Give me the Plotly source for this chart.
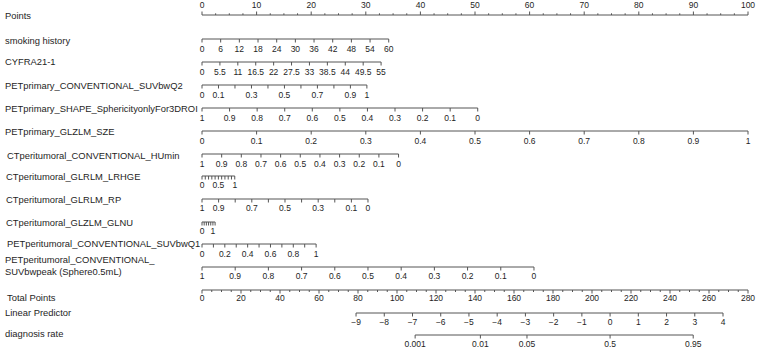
import math
import plotly.graph_objects as go

# ---------------- data ----------------
POINTS_MAJOR = [0, 10, 20, 30, 40, 50, 60, 70, 80, 90, 100]
POINTS_MINOR = [i * 2.5 for i in range(41)]

SMOKING_TICKS = [0, 6, 12, 18, 24, 30, 36, 42, 48, 54, 60]
SMOKING_LABELS = ["0", "6", "12", "18", "24", "30", "36", "42", "48", "54", "60"]
SMOKING_ENDS = [0, 60]          # value at 0 points, value at max points
SMOKING_MAXPTS = 34.2

CYFRA_TICKS = [0, 5.5, 11, 16.5, 22, 27.5, 33, 38.5, 44, 49.5, 55]
CYFRA_LABELS = ["0", "5.5", "11", "16.5", "22", "27.5", "33", "38.5", "44", "49.5", "55"]
CYFRA_ENDS = [0, 55]
CYFRA_MAXPTS = 32.8

SUVQ2_TICKS = [0, 0.1, 0.2, 0.3, 0.4, 0.5, 0.6, 0.7, 0.8, 0.9, 1]
SUVQ2_LABEL_AT = [0, 0.1, 0.3, 0.5, 0.7, 0.9, 1]
SUVQ2_LABELS = ["0", "0.1", "0.3", "0.5", "0.7", "0.9", "1"]
SUVQ2_ENDS = [0, 1]
SUVQ2_MAXPTS = 30.2

SPHER_TICKS = [1, 0.9, 0.8, 0.7, 0.6, 0.5, 0.4, 0.3, 0.2, 0.1, 0]
SPHER_LABELS = ["1", "0.9", "0.8", "0.7", "0.6", "0.5", "0.4", "0.3", "0.2", "0.1", "0"]
SPHER_ENDS = [1, 0]
SPHER_MAXPTS = 50.5

SZE_TICKS = [0, 0.1, 0.2, 0.3, 0.4, 0.5, 0.6, 0.7, 0.8, 0.9, 1]
SZE_LABELS = ["0", "0.1", "0.2", "0.3", "0.4", "0.5", "0.6", "0.7", "0.8", "0.9", "1"]
SZE_ENDS = [0, 1]
SZE_MAXPTS = 100

HUMIN_TICKS = [1, 0.9, 0.8, 0.7, 0.6, 0.5, 0.4, 0.3, 0.2, 0.1, 0]
HUMIN_LABELS = ["1", "0.9", "0.8", "0.7", "0.6", "0.5", "0.4", "0.3", "0.2", "0.1", "0"]
HUMIN_ENDS = [1, 0]
HUMIN_MAXPTS = 36.0

LRHGE_TICKS = [0, 0.1, 0.2, 0.3, 0.4, 0.5, 0.6, 0.7, 0.8, 0.9, 1]
LRHGE_LABEL_AT = [0, 0.5, 1]
LRHGE_LABELS = ["0", "0.5", "1"]
LRHGE_ENDS = [0, 1]
LRHGE_MAXPTS = 6.0

RP_TICKS = [1, 0.9, 0.8, 0.7, 0.6, 0.5, 0.4, 0.3, 0.2, 0.1, 0]
RP_LABEL_AT = [1, 0.9, 0.7, 0.5, 0.3, 0.1, 0]
RP_LABELS = ["1", "0.9", "0.7", "0.5", "0.3", "0.1", "0"]
RP_ENDS = [1, 0]
RP_MAXPTS = 30.4

GLNU_TICKS = [0, 0.2, 0.4, 0.6, 0.8, 1.0, 1.2]
GLNU_LABEL_AT = [0, 1]
GLNU_LABELS = ["0", "1"]
GLNU_ENDS = [0, 1]
GLNU_MAXPTS = 2.0

SUVQ1_TICKS = [0, 0.1, 0.2, 0.3, 0.4, 0.5, 0.6, 0.7, 0.8, 0.9, 1]
SUVQ1_LABEL_AT = [0, 0.2, 0.4, 0.6, 0.8, 1]
SUVQ1_LABELS = ["0", "0.2", "0.4", "0.6", "0.8", "1"]
SUVQ1_ENDS = [0, 1]
SUVQ1_MAXPTS = 20.9

PEAK_TICKS = [1, 0.9, 0.8, 0.7, 0.6, 0.5, 0.4, 0.3, 0.2, 0.1, 0]
PEAK_LABELS = ["1", "0.9", "0.8", "0.7", "0.6", "0.5", "0.4", "0.3", "0.2", "0.1", "0"]
PEAK_ENDS = [1, 0]
PEAK_MAXPTS = 60.8

TOTAL_MAJOR = [0, 20, 40, 60, 80, 100, 120, 140, 160, 180, 200, 220, 240, 260, 280]
TOTAL_MINOR = [i * 5 for i in range(57)]
TOTAL_MAX = 280

LP_TICKS = [-9, -8, -7, -6, -5, -4, -3, -2, -1, 0, 1, 2, 3, 4]
LP_LABELS = ["\u22129", "\u22128", "\u22127", "\u22126", "\u22125", "\u22124", "\u22123",
             "\u22122", "\u22121", "0", "1", "2", "3", "4"]
LP_INTERCEPT = -14.457      # linear predictor at 0 total points
LP_SLOPE = 0.06908          # linear predictor per total point

RATE_TICKS = [0.001, 0.01, 0.05, 0.5, 0.95]
RATE_LABELS = ["0.001", "0.01", "0.05", "0.5", "0.95"]

# ---------------- layout constants ----------------
W, H = 757, 351
PX0, PX100 = 202, 748
PPP = (PX100 - PX0) / 100.0
XR = [-PX0 / PPP, (W - PX0) / PPP]
LINE_C = "#555555"
TEXT_C = "#1e1e1e"
FONT = "Liberation Sans, Arial, sans-serif"
LAB_SIZE = 9.4
TICK_SIZE = 8.5
TL = 3.5   # major tick length (px)


def to_pts(v, ends, maxpts):
    return maxpts * (v - ends[0]) / (ends[1] - ends[0])


fig = go.Figure()
seg_x, seg_y = [], []
txt_x, txt_y, txt_s = [], [], []


def add_row(tick_vals, label_vals, labels, conv, y_line, y_lab, tick_len=TL, direction=1):
    xs = [conv(v) for v in tick_vals]
    seg_x.extend([min(xs), max(xs), None])
    seg_y.extend([y_line, y_line, None])
    for x in xs:
        seg_x.extend([x, x, None])
        seg_y.extend([y_line, y_line + direction * tick_len, None])
    for v, s in zip(label_vals, labels):
        txt_x.append(conv(v))
        txt_y.append(y_lab)
        txt_s.append(s)


# Points axis (ticks upward, labels above)
add_row(POINTS_MAJOR, POINTS_MAJOR, [str(v) for v in POINTS_MAJOR], lambda v: v, 15, 5.5, TL, -1)
for v in POINTS_MINOR:
    if v not in POINTS_MAJOR:
        seg_x.extend([v, v, None])
        seg_y.extend([15, 13.3, None])

rows = [
    (SMOKING_TICKS, SMOKING_TICKS, SMOKING_LABELS, SMOKING_ENDS, SMOKING_MAXPTS, 39, 50),
    (CYFRA_TICKS, CYFRA_TICKS, CYFRA_LABELS, CYFRA_ENDS, CYFRA_MAXPTS, 62, 73),
    (SUVQ2_TICKS, SUVQ2_LABEL_AT, SUVQ2_LABELS, SUVQ2_ENDS, SUVQ2_MAXPTS, 85, 96),
    (SPHER_TICKS, SPHER_TICKS, SPHER_LABELS, SPHER_ENDS, SPHER_MAXPTS, 108, 119),
    (SZE_TICKS, SZE_TICKS, SZE_LABELS, SZE_ENDS, SZE_MAXPTS, 131, 142),
    (HUMIN_TICKS, HUMIN_TICKS, HUMIN_LABELS, HUMIN_ENDS, HUMIN_MAXPTS, 154, 165),
    (LRHGE_TICKS, LRHGE_LABEL_AT, LRHGE_LABELS, LRHGE_ENDS, LRHGE_MAXPTS, 176, 186),
    (RP_TICKS, RP_LABEL_AT, RP_LABELS, RP_ENDS, RP_MAXPTS, 199, 209),
    (GLNU_TICKS, GLNU_LABEL_AT, GLNU_LABELS, GLNU_ENDS, GLNU_MAXPTS, 222, 232),
    (SUVQ1_TICKS, SUVQ1_LABEL_AT, SUVQ1_LABELS, SUVQ1_ENDS, SUVQ1_MAXPTS, 244, 254.5),
    (PEAK_TICKS, PEAK_TICKS, PEAK_LABELS, PEAK_ENDS, PEAK_MAXPTS, 267, 277),
]
for tv, lv, lab, ends, mp, yl, yt in rows:
    add_row(tv, lv, lab, lambda v, e=ends, m=mp: to_pts(v, e, m), yl, yt)


def tp_to_x(tp):
    return tp * 100.0 / TOTAL_MAX


add_row(TOTAL_MAJOR, TOTAL_MAJOR, [str(v) for v in TOTAL_MAJOR], tp_to_x, 290, 298.5)
for v in TOTAL_MINOR:
    if v not in TOTAL_MAJOR:
        seg_x.extend([tp_to_x(v), tp_to_x(v), None])
        seg_y.extend([290, 292, None])


def lp_to_x(lp):
    return tp_to_x((lp - LP_INTERCEPT) / LP_SLOPE)


add_row(LP_TICKS, LP_TICKS, LP_LABELS, lp_to_x, 313, 322.5)


def rate_to_x(p):
    return lp_to_x(math.log(p / (1 - p)))


add_row(RATE_TICKS, RATE_TICKS, RATE_LABELS, rate_to_x, 335, 345)

fig.add_trace(go.Scatter(x=seg_x, y=seg_y, mode="lines",
                         line=dict(color=LINE_C, width=1), hoverinfo="skip", showlegend=False))
fig.add_trace(go.Scatter(x=txt_x, y=txt_y, mode="text", text=txt_s,
                         textfont=dict(family=FONT, size=TICK_SIZE, color=TEXT_C),
                         textposition="middle center", hoverinfo="skip", showlegend=False))

ROW_NAMES = ["Points", "smoking history", "CYFRA21-1", "PETprimary_CONVENTIONAL_SUVbwQ2",
             "PETprimary_SHAPE_SphericityonlyFor3DROI", "PETprimary_GLZLM_SZE",
             "CTperitumoral_CONVENTIONAL_HUmin", "CTperitumoral_GLRLM_LRHGE",
             "CTperitumoral_GLRLM_RP", "CTperitumoral_GLZLM_GLNU",
             "PETperitumoral_CONVENTIONAL_SUVbwQ1",
             "PETperitumoral_CONVENTIONAL_<br>SUVbwpeak (Sphere0.5mL)",
             "Total Points", "Linear Predictor", "diagnosis rate"]
NAME_Y = [15, 40, 61, 85, 108, 131, 155, 176, 199, 222, 243.5, 265.5, 297, 312, 333]
NAME_X = [3, 3, 3, 3, 2.5, 3, 5, 3.5, 3.5, 3.5, 4.5, 3, 5, 3, 3]

for name, y, x in zip(ROW_NAMES, NAME_Y, NAME_X):
    fig.add_annotation(text=name, x=x / W, xref="paper", y=y, yref="y",
                       xanchor="left", yanchor="middle", showarrow=False, align="left",
                       font=dict(family=FONT, size=LAB_SIZE, color=TEXT_C))

fig.update_layout(width=W, height=H, margin=dict(l=0, r=0, t=0, b=0),
                  paper_bgcolor="white", plot_bgcolor="white",
                  xaxis=dict(range=XR, visible=False, fixedrange=True),
                  yaxis=dict(range=[H, 0], visible=False, fixedrange=True))
fig.write_html("out.html")
